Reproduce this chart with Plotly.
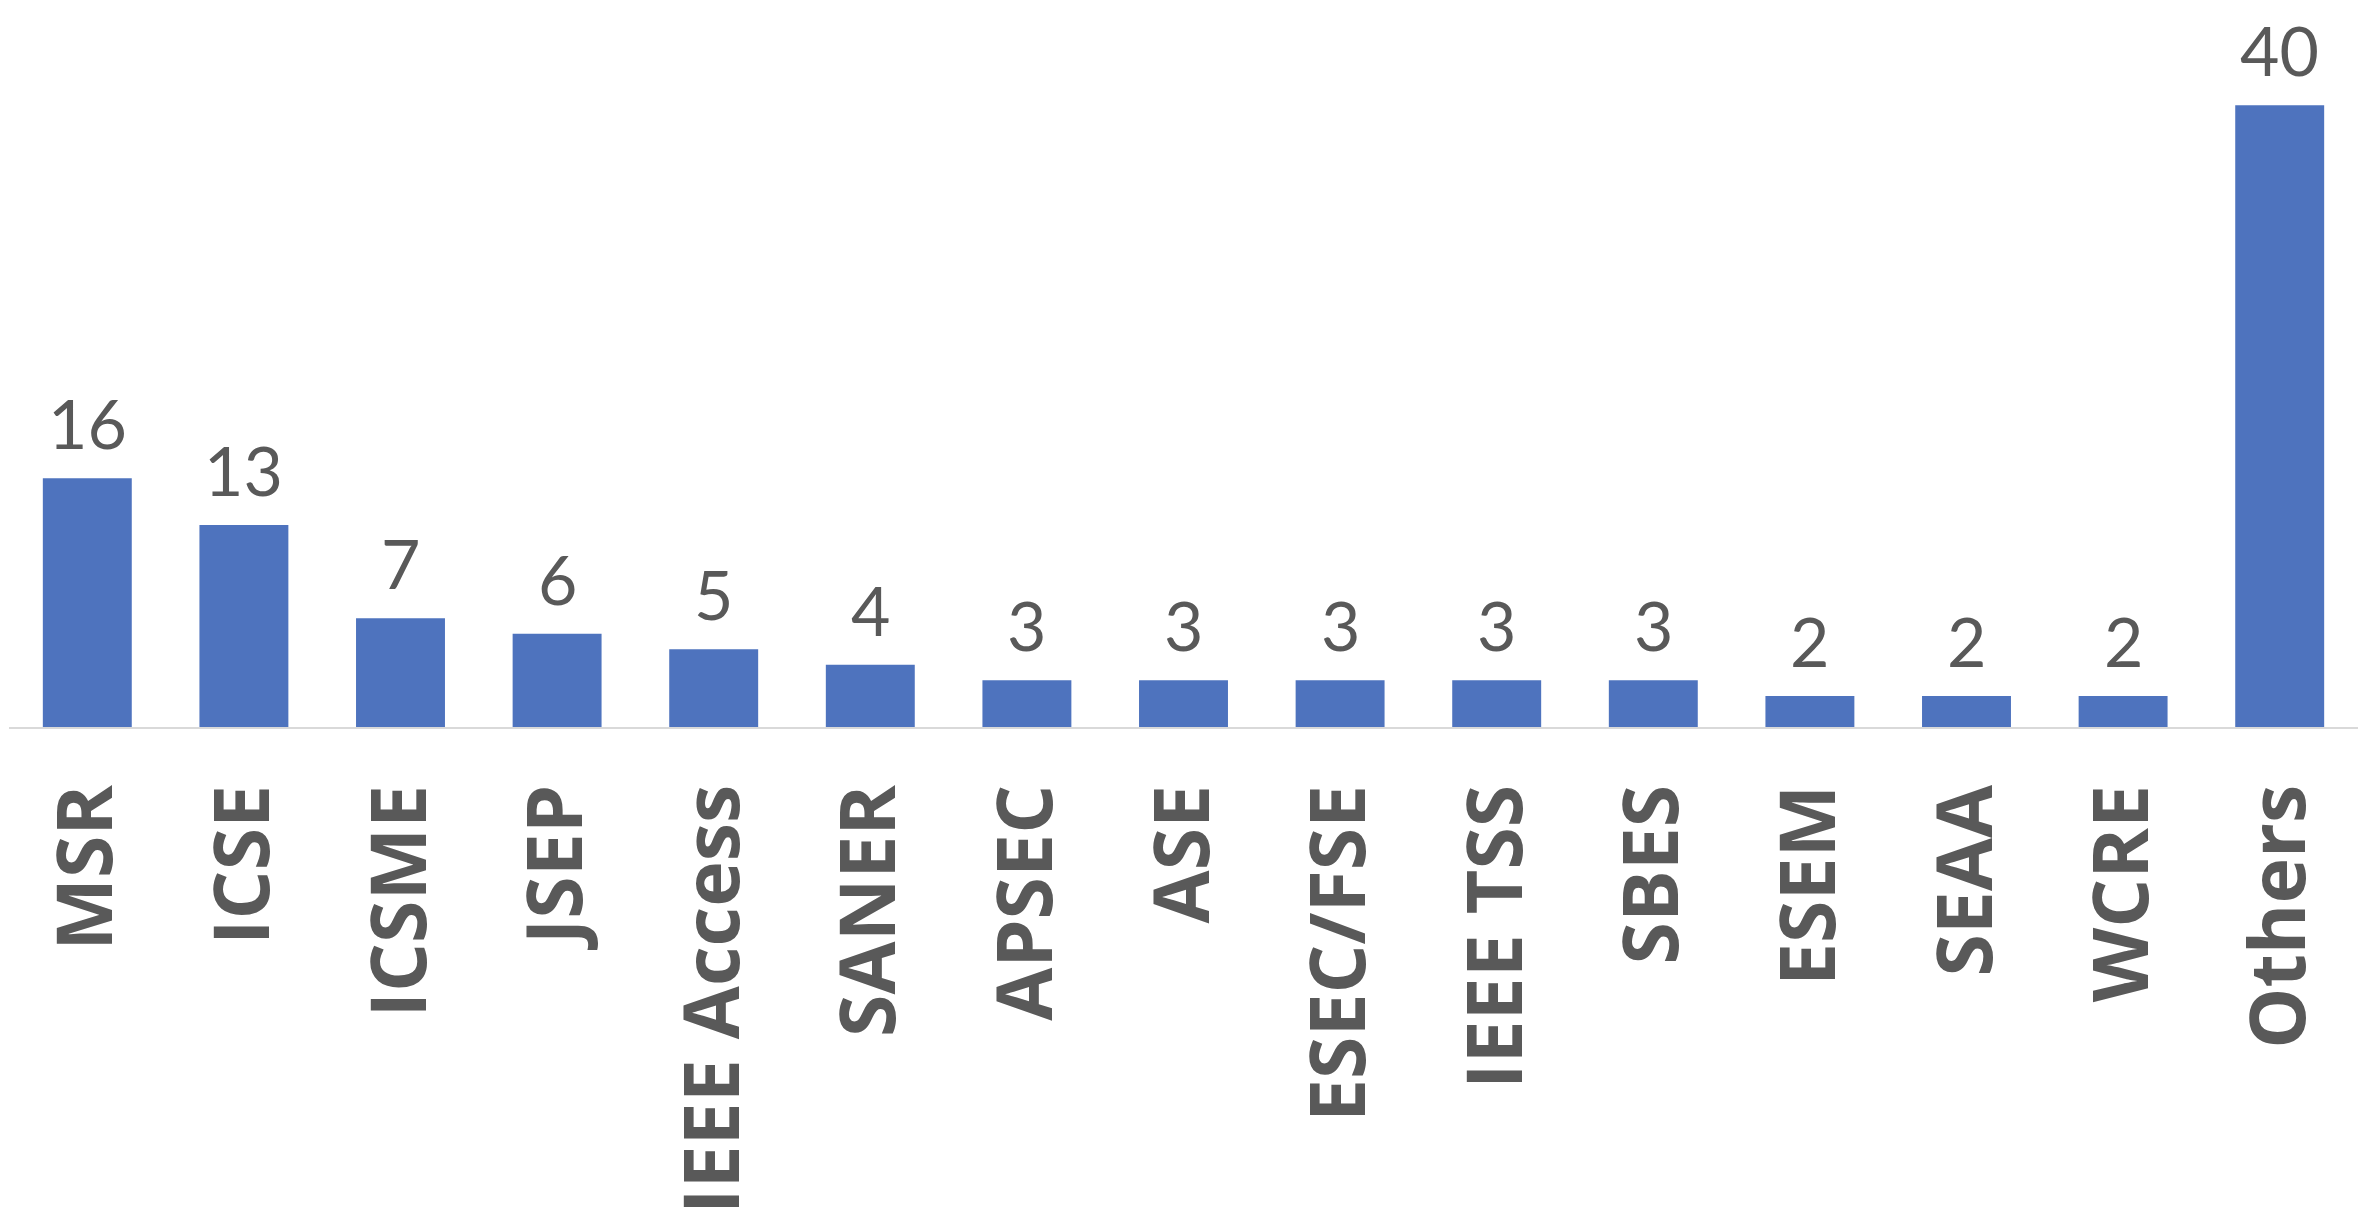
import plotly.graph_objects as go

venues = ["MSR", "ICSE", "ICSME", "JSEP", "IEEE Access", "SANER", "APSEC", "ASE",
          "ESEC/FSE", "IEEE TSS", "SBES", "ESEM", "SEAA", "WCRE", "Others"]
counts = [16, 13, 7, 6, 5, 4, 3, 3, 3, 3, 3, 2, 2, 2, 40]

bar_color = "#4e73be"
text_color = "#595959"

fig = go.Figure()
fig.add_trace(go.Bar(x=venues, y=counts, marker_color=bar_color,
                     marker_line_width=0, hoverinfo="x+y"))

# value labels above each bar
for v, c in zip(venues, counts):
    fig.add_annotation(x=v, y=c, text=str(c), showarrow=False,
                       yanchor="bottom", yshift=13,
                       font=dict(family="Lato", size=68, color=text_color))

# page body has an 8px margin, so the figure is 8px smaller than the window
fig.update_layout(
    width=2361, height=1223,
    margin=dict(l=1, r=11, t=35, b=504),
    plot_bgcolor="white", paper_bgcolor="white",
    bargap=0.432, showlegend=False,
)
fig.update_xaxes(
    automargin=False,
    tickangle=-90,
    tickfont=dict(family="Open Sans", size=77, color=text_color, weight="bold"),
    ticks="outside", ticklen=25, tickcolor="rgba(0,0,0,0)",
    showline=True, linecolor="#d9d9d9", linewidth=2,
    showgrid=False,
)
fig.update_yaxes(range=[0, 44], visible=False, showgrid=False, automargin=False)

fig.write_html("out.html")
